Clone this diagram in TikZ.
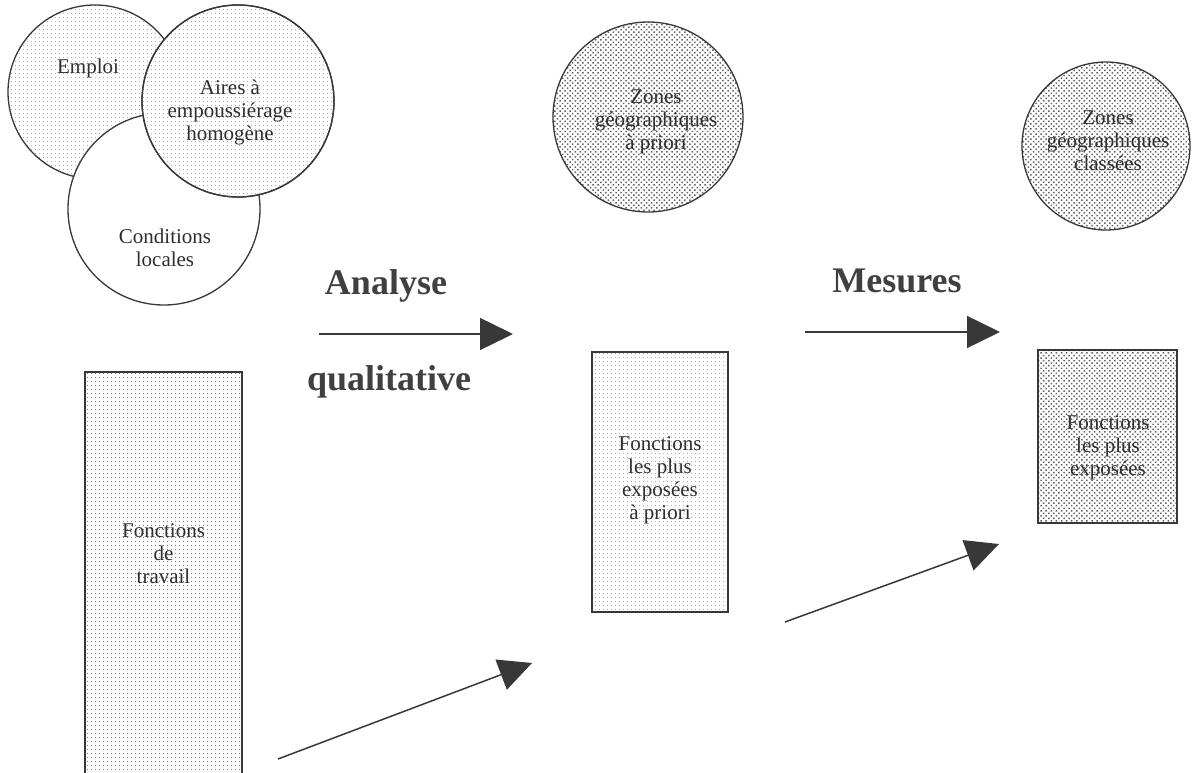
\documentclass[tikz,border=0pt]{standalone}
\usepackage{fontspec}
\setmainfont{Liberation Serif}
\usetikzlibrary{arrows.meta,patterns.meta}
\begin{document}
\begin{tikzpicture}[x=1pt,y=-1pt,
  outl/.style={draw=black!78, line width=1.3pt},
  lightdots/.style={pattern={Dots[distance=4pt,radius=0.6pt]}, pattern color=black!42},
  meddots/.style={pattern={Dots[distance=4pt,radius=0.75pt]}, pattern color=black!52},
  darkdots/.style={pattern={Dots[distance=3.6pt,radius=1.05pt,angle=45]}, pattern color=black!62},
  circ/.style={outl, circle, inner sep=0pt, minimum size=#1},
  box/.style={outl, rectangle, inner sep=0pt},
  txt/.style={align=center, text=black!82, font=\fontsize{21}{23}\selectfont},
  big/.style={text=black!75, font=\bfseries\fontsize{36}{38}\selectfont, anchor=base},
  arr/.style={draw=black!78, line width=1.5pt, -{Triangle[length=33pt,width=32pt]}}
]
\useasboundingbox (0,0) rectangle (1195,773);
% top-left cluster
\node[circ=174pt, lightdots] (emploi) at (95,92) {};
\node[circ=192pt, fill=white] (cond) at (164,209) {};
\node[circ=192pt, fill=white] (airesbg) at (238,101) {};
\node[circ=192pt, lightdots] (aires) at (238,101) {};
\node[txt] (emploit) at (88,68) {Emploi};
\node[txt] (airest) at (230,112) {Aires à\\empoussiérage\\homogène};
\node[txt] (condt) at (165,248) {Conditions\\locales};
% zones circles
\node[circ=190pt, darkdots] (zap) at (648,117) {};
\node[txt] (zapt) at (656,122) {Zones\\géographiques\\à priori};
\node[circ=168pt, darkdots] (zcl) at (1106,146) {};
\node[txt] (zclt) at (1108,141) {Zones\\géographiques\\classées};
% rectangles
\node[box, meddots, minimum width=157pt, minimum height=430pt] (ft) at (163.5,587) {};
\node[txt] (ftt) at (163.5,554) {Fonctions\\de\\travail};
\node[box, lightdots, minimum width=136pt, minimum height=260pt] (fap) at (660,482) {};
\node[txt] (fapt) at (660,480) {Fonctions\\les plus\\exposées\\à priori};
\node[box, darkdots, minimum width=139pt, minimum height=173pt] (fcl) at (1107.5,436.5) {};
\node[txt] (fclt) at (1108,448) {Fonctions\\les plus\\exposées};
% labels
\node[big] (lana) at (386,294) {Analyse};
\node[big] (lqual) at (389,390) {qualitative};
\node[big] (lmes) at (897,292) {Mesures};
% arrows
\coordinate (a1s) at (319,334);
\coordinate (a1e) at (513,334);
\coordinate (a2s) at (805,332);
\coordinate (a2e) at (1000,332);
\coordinate (a3s) at (278,759);
\coordinate (a3e) at (532,663);
\coordinate (a4s) at (785,622);
\coordinate (a4e) at (999,544);
\draw[arr] (a1s) -- (a1e);
\draw[arr] (a2s) -- (a2e);
\draw[arr] (a3s) -- (a3e);
\draw[arr] (a4s) -- (a4e);
\end{tikzpicture}
\end{document}
